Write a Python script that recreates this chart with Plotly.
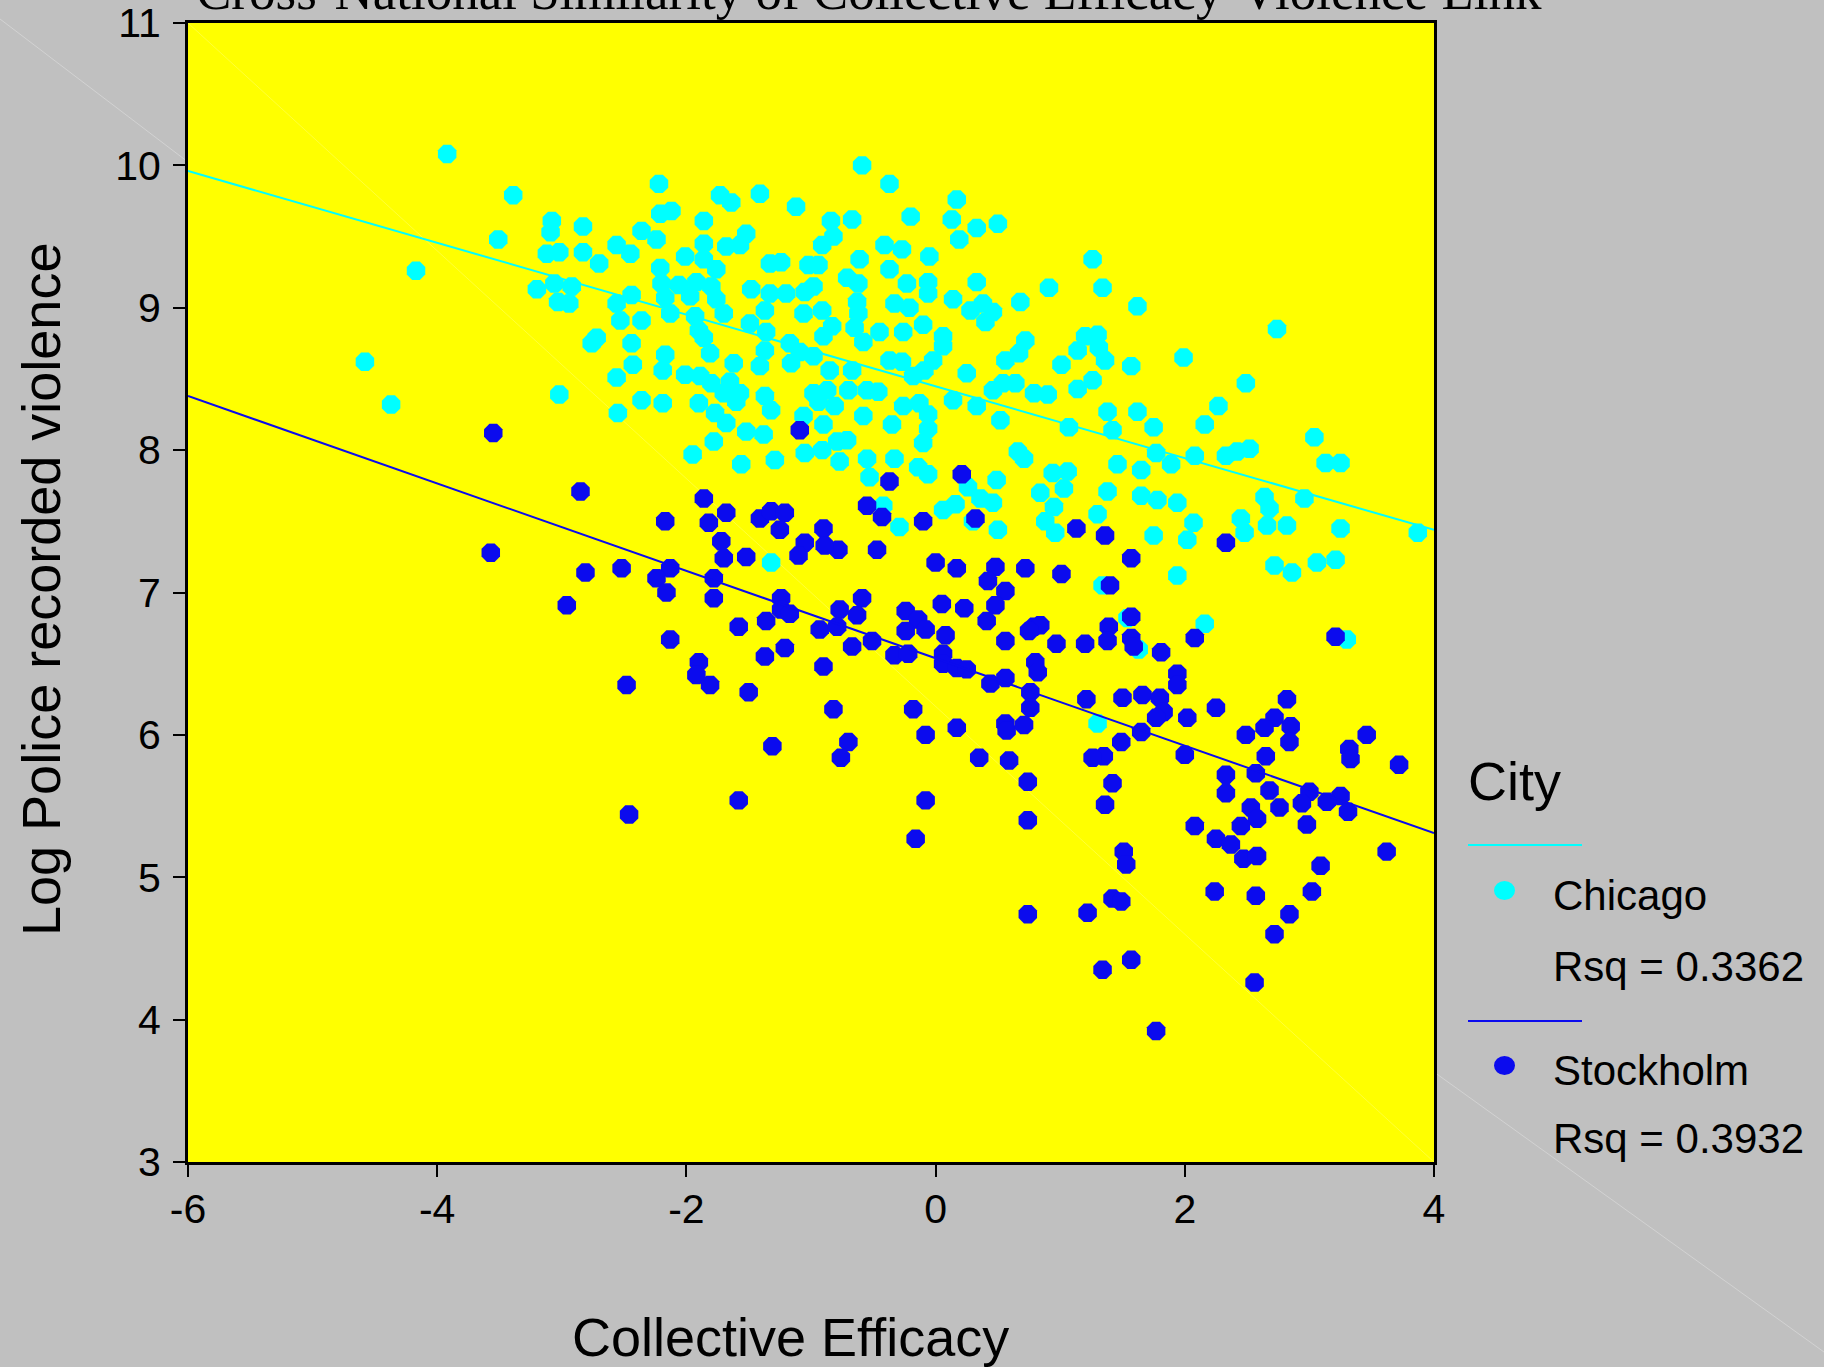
import plotly.graph_objects as go

# ---------------- data ----------------
chicago_x = [
    -3.92, -3.39, -3.08, -3.09, -2.83, -3.51, -3.12, -3.02, -2.83, -2.70, -4.17, -3.06, -3.20, -2.92,
    -3.03, -2.94, -2.72, -2.76, -4.58, -3.02, -4.37,
    -0.59, -2.22, -0.37, -1.73, -1.64, -1.41, -1.12, 0.17, -2.21, -2.12, -1.86, -0.84, -0.67, -0.20,
    0.13, 0.33, 0.50, -2.36, -2.24, -1.52, -1.86, 0.19, -2.56, -2.45, -1.68, -1.57, -0.91, -0.82,
    -0.41, -0.27, -0.05, -0.61, -2.01, -1.86, -1.76, -2.21, -1.33, -1.24, -1.02, -0.94, -0.37, -0.71,
    -0.62, -0.23, -0.06, 0.33, -2.20, -2.06, -1.92, -1.80, -1.48, -1.33, -1.20, -1.05, -0.98, -2.44,
    -2.56, -2.17, -1.97, -1.76, 0.14, -0.06, -0.33, -0.21, 0.38, 0.46, -0.63, -0.62, 0.28, 0.40,
    -2.53, -2.36, -2.13, -1.93, -1.70, -1.49, -1.37, -1.06, -0.91, -0.83, -1.90, -1.36, -0.90, -0.65,
    -0.58, -0.45, -0.26, -0.10, 0.06, -2.44, -1.17, -1.86, -1.37, -1.09, -0.98, 0.06, -2.17, -1.81,
    -1.62, -2.43, -2.19, -1.41, -1.16, -0.85, -0.67, -0.37, -0.27, -0.02, 0.56, -0.18, -0.09, 0.25,
    -2.56, -2.01, -1.89, -1.65, -1.80, 0.54, -0.98, -0.87, -0.70, -0.55, -0.46, 0.46, -1.70, -1.57,
    -2.36, -2.19, -1.90, -1.60, -1.37, -0.94, -0.81, -0.26, -0.13, 0.14, 0.33, -2.55, -1.77, -1.32,
    -1.06, -0.58, -0.06, 0.52, -1.68, -1.52, -1.38, -0.90, -0.35, -0.06, -1.78, -0.79, -0.71, -0.10,
    -1.95, -1.29, -1.56, -1.05, -0.91, -0.77, -0.55, -0.33, -0.14, -0.06, -0.53, 0.26, 0.49, 0.36,
    0.06, 0.16, 0.46, -0.29, 0.50, 0.30, -1.32, -0.42,
    1.26, 0.91, 1.34, 0.68, 1.62, 2.74, 0.72, 0.67, 1.20, 1.30, 1.14, 1.31, 1.36, 1.01, 1.57, 1.99,
    2.49, 0.64, 0.79, 0.90, 1.14, 1.26, 1.38, 1.62, 2.27, 1.07, 1.42, 1.75, 2.16, 3.04, 0.66, 0.71,
    1.77, 1.89, 2.08, 2.33, 2.42, 2.52, 3.13, 3.25, 1.46, 1.65, 0.94, 1.06, 1.03, 0.84, 1.38, 1.65,
    1.78, 1.94, 2.64, 2.68, 2.96, 0.95, 1.30, 0.88, 0.96, 2.07, 2.45, 2.48, 2.66, 2.82, 3.25, 3.87,
    1.75, 2.02, 2.72, 2.86, 3.06, 3.21, 1.94, 1.34,
    2.16, 3.30, 1.54, 1.63, 1.30,
]
chicago_y = [
    10.08, 9.79, 9.61, 9.53, 9.57, 9.48, 9.38, 9.39, 9.39, 9.31, 9.26, 9.17, 9.13, 9.15,
    9.04, 9.03, 8.79, 8.75, 8.62, 8.39, 8.32,
    10.00, 9.87, 9.87, 9.79, 9.74, 9.80, 9.71, 9.76, 9.66, 9.68, 9.61, 9.61, 9.62, 9.64,
    9.62, 9.56, 9.59, 9.54, 9.48, 9.52, 9.45, 9.48, 9.44, 9.38, 9.43, 9.44, 9.44, 9.50,
    9.44, 9.41, 9.36, 9.34, 9.36, 9.34, 9.27, 9.28, 9.31, 9.32, 9.30, 9.30, 9.27, 9.21,
    9.17, 9.17, 9.18, 9.18, 9.17, 9.16, 9.18, 9.15, 9.13, 9.10, 9.10, 9.11, 9.15, 9.09,
    9.03, 9.07, 9.08, 9.06, 9.06, 9.10, 9.03, 9.00, 9.03, 8.97, 9.04, 8.96, 8.98, 8.90,
    8.91, 8.91, 8.96, 8.94, 8.96, 8.89, 8.98, 8.96, 8.98, 8.87, 8.84, 8.83, 8.80, 8.86,
    8.76, 8.83, 8.83, 8.88, 8.80, 8.75, 8.75, 8.79, 8.70, 8.69, 8.66, 8.73, 8.67, 8.68,
    8.61, 8.60, 8.56, 8.59, 8.61, 8.56, 8.56, 8.63, 8.62, 8.63, 8.63, 8.52, 8.56, 8.54,
    8.51, 8.53, 8.52, 8.48, 8.47, 8.47, 8.40, 8.42, 8.42, 8.42, 8.41, 8.42, 8.40, 8.40,
    8.35, 8.33, 8.33, 8.34, 8.38, 8.34, 8.31, 8.31, 8.33, 8.35, 8.31, 8.26, 8.26, 8.28,
    8.24, 8.24, 8.25, 8.21, 8.19, 8.13, 8.11, 8.18, 8.18, 8.15, 8.06, 8.06, 8.07, 8.05,
    7.97, 7.93, 7.90, 7.98, 8.00, 7.92, 7.94, 7.94, 7.88, 7.83, 7.81, 7.74, 7.79, 7.66,
    7.58, 7.62, 7.63, 7.46, 7.44, 7.50, 7.21, 7.61,
    9.34, 9.14, 9.14, 9.04, 9.01, 8.85, 8.77, 8.68, 8.80, 8.81, 8.70, 8.72, 8.63, 8.60, 8.59, 8.65,
    8.47, 8.47, 8.40, 8.39, 8.43, 8.49, 8.27, 8.27, 8.31, 8.16, 8.14, 8.16, 8.18, 8.09, 7.99, 7.94,
    7.98, 7.90, 7.96, 7.96, 7.99, 8.01, 7.91, 7.91, 7.90, 7.86, 7.84, 7.85, 7.73, 7.70, 7.71, 7.68,
    7.65, 7.63, 7.67, 7.59, 7.66, 7.60, 7.55, 7.50, 7.42, 7.49, 7.52, 7.42, 7.47, 7.47, 7.45, 7.42,
    7.40, 7.37, 7.19, 7.14, 7.21, 7.23, 7.12, 7.05,
    6.78, 6.67, 6.82, 6.60, 6.08,
]

stockholm_x = [
    -3.55, -2.85, -3.57, -2.81,
    -1.09, -0.37, 0.21, -1.86, -2.17, -1.68, -1.82, -1.41, -1.32, -1.21, -1.25, -0.55, -0.43, -0.10,
    0.32, -1.72, -1.70, -1.52, -0.90, -1.05, -1.10, -0.78, -0.89, -0.47, 0.00, 0.17, 0.48, 0.42,
    -2.52, -2.13, -2.24, -1.78, 0.56,
    -2.96,
    -2.16, -1.78, -1.24, -1.24, -1.17, -0.59, -0.77, -0.63, -1.36, -1.58, -0.93, -0.79, -2.13, -0.24,
    -0.14, -0.24, -0.08, 0.05, 0.23, 0.48, 0.41, 0.08, 0.56, -0.67, -0.51, -1.21, -1.37, -1.90,
    -1.92, -1.81, -2.48, -1.50, -0.90, -0.33, -0.22, 0.06, 0.06, 0.17, 0.25, 0.44, 0.56, -0.82,
    -0.18, -0.08, 0.17, 0.56, 0.57, -1.31, -0.70, -0.76, 0.35, 0.59, -1.58, -0.08, -2.46, -0.16,
    0.72, 1.01, 1.40, 1.13, 1.36, 2.33, 1.57,
    0.79, 0.84, 0.75, 0.97, 1.20, 1.39, 1.38, 1.57, 1.57, 1.59, 1.81, 2.08, 3.21, 0.80, 0.82, 1.94,
    1.94, 0.76, 0.76, 1.21, 1.50, 1.66, 1.80, 1.83, 1.77, 2.02, 2.25, 2.82, 2.72, 2.64, 2.85, 2.49,
    2.84, 3.46, 0.71, 1.65, 1.49, 1.35, 1.26, 2.00, 2.65, 3.32, 3.33, 3.72, 2.57, 2.33, 2.33, 0.74,
    1.42, 1.36, 2.68, 3.00, 3.25, 3.14, 2.94, 2.53, 2.76, 3.31, 2.58, 2.98, 2.45, 2.08, 0.74, 2.25,
    2.37, 2.47, 2.58, 1.51, 1.53, 3.62, 3.09, 3.02, 2.24, 2.57, 1.42, 1.49, 1.22, 0.74, 2.84, 2.72,
    1.57, 1.34, 2.56, 1.77,
]
stockholm_y = [
    8.12, 7.71, 7.28, 7.14,
    8.14, 7.78, 7.83, 7.66, 7.50, 7.56, 7.49, 7.52, 7.57, 7.56, 7.44, 7.61, 7.53, 7.50,
    7.52, 7.36, 7.24, 7.25, 7.45, 7.35, 7.26, 7.30, 7.33, 7.30, 7.21, 7.17, 7.18, 7.08,
    7.17, 7.17, 7.10, 7.10, 7.01,
    6.91,
    7.00, 6.96, 6.96, 6.88, 6.85, 6.96, 6.88, 6.84, 6.80, 6.76, 6.74, 6.76, 6.67, 6.87,
    6.81, 6.73, 6.74, 6.92, 6.89, 6.91, 6.80, 6.70, 6.66, 6.62, 6.66, 6.61, 6.55, 6.51,
    6.42, 6.35, 6.35, 6.30, 6.48, 6.56, 6.57, 6.57, 6.50, 6.47, 6.46, 6.36, 6.40, 6.18,
    6.18, 6.00, 6.05, 6.08, 6.03, 5.92, 5.95, 5.84, 5.84, 5.82, 5.54, 5.54, 5.44, 5.27,
    7.17, 7.13, 7.05, 7.45, 7.40, 7.35, 7.24,
    6.76, 6.77, 6.73, 6.64, 6.64, 6.76, 6.66, 6.83, 6.68, 6.62, 6.58, 6.68, 6.69, 6.51, 6.44, 6.43,
    6.35, 6.30, 6.19, 6.25, 6.26, 6.28, 6.26, 6.16, 6.12, 6.12, 6.19, 6.25, 6.12, 6.05, 6.06, 6.00,
    5.95, 6.00, 6.07, 6.02, 5.95, 5.85, 5.84, 5.86, 5.85, 5.90, 5.83, 5.79, 5.73, 5.72, 5.59, 5.67,
    5.66, 5.51, 5.61, 5.60, 5.57, 5.53, 5.52, 5.49, 5.49, 5.46, 5.41, 5.37, 5.36, 5.36, 5.40, 5.27,
    5.23, 5.13, 5.15, 5.18, 5.09, 5.18, 5.08, 4.90, 4.90, 4.87, 4.85, 4.83, 4.75, 4.74, 4.74, 4.60,
    4.42, 4.35, 4.26, 3.92,
]

fit_x = [-6, 4]
chicago_fit_y = [9.96, 7.44]
stockholm_fit_y = [8.38, 5.31]

cities = ["Chicago", "Stockholm"]
rsq_labels = ["Rsq = 0.3362", "Rsq = 0.3932"]

x_ticks = [-6, -4, -2, 0, 2, 4]
x_tick_text = ["-6", "-4", "-2", "0", "2", "4"]
y_ticks = [3, 4, 5, 6, 7, 8, 9, 10, 11]
y_tick_text = ["3", "4", "5", "6", "7", "8", "9", "10", "11"]

CYAN = "#00FFFF"
BLUE = "#0B0BEE"
SANS = "Liberation Sans, Arial, sans-serif"
SERIF = "Liberation Serif, Times New Roman, serif"

# ---------------- figure ----------------
fig = go.Figure()

fig.add_trace(go.Scatter(
    x=chicago_x, y=chicago_y, mode="markers", name=cities[0],
    marker=dict(symbol="octagon", size=20, color=CYAN, line=dict(width=0)),
    showlegend=False))
fig.add_trace(go.Scatter(
    x=stockholm_x, y=stockholm_y, mode="markers", name=cities[1],
    marker=dict(symbol="octagon", size=20, color=BLUE, line=dict(width=0)),
    showlegend=False))
fig.add_trace(go.Scatter(
    x=fit_x, y=chicago_fit_y, mode="lines", line=dict(color=CYAN, width=2),
    showlegend=False, hoverinfo="skip"))
fig.add_trace(go.Scatter(
    x=fit_x, y=stockholm_fit_y, mode="lines", line=dict(color=BLUE, width=2),
    showlegend=False, hoverinfo="skip"))

W, H = 1824, 1367
L, R, T, B = 188, 390, 23, 205
PW, PH = W - L - R, H - T - B


def px(xp):
    return (xp - L) / PW


def py(yp):
    return (H - B - yp) / PH


shapes = [
    # faint background decoration lines
    dict(type="line", xref="paper", yref="paper", x0=0, y0=1, x1=1, y1=0,
         line=dict(color="rgba(255,255,255,0.22)", width=1), layer="below"),
    dict(type="line", xref="paper", yref="paper", x0=px(0), y0=py(19), x1=px(188), y1=py(162),
         line=dict(color="#D2D2D2", width=1), layer="below"),
    dict(type="line", xref="paper", yref="paper", x0=px(1434), y0=py(1072), x1=px(1824), y1=py(1352),
         line=dict(color="#D2D2D2", width=1), layer="below"),
    # custom legend
    dict(type="line", xref="paper", yref="paper", x0=px(1468), x1=px(1582), y0=py(845), y1=py(845),
         line=dict(color=CYAN, width=2)),
    dict(type="circle", xref="paper", yref="paper", x0=px(1494), x1=px(1515), y0=py(881), y1=py(900),
         fillcolor=CYAN, line=dict(width=0)),
    dict(type="line", xref="paper", yref="paper", x0=px(1468), x1=px(1582), y0=py(1021), y1=py(1021),
         line=dict(color=BLUE, width=2)),
    dict(type="circle", xref="paper", yref="paper", x0=px(1494), x1=px(1515), y0=py(1056), y1=py(1075),
         fillcolor=BLUE, line=dict(width=0)),
]

annotations = [
    dict(text="Cross-National Similarity of Collective Efficacy-Violence Link", xref="paper", yref="paper",
         x=px(869), y=1, xanchor="center", yanchor="bottom", yshift=1, showarrow=False,
         font=dict(family=SERIF, size=53, color="black")),
    dict(text="Log Police recorded violence", xref="paper", yref="paper", x=px(41), y=py(590),
         xanchor="center", yanchor="middle", textangle=-90, showarrow=False,
         font=dict(family=SANS, size=54, color="black")),
    dict(text="Collective Efficacy", xref="paper", yref="paper", x=px(790), y=py(1337),
         xanchor="center", yanchor="middle", showarrow=False,
         font=dict(family=SANS, size=54, color="black")),
    dict(text="City", xref="paper", yref="paper", x=px(1466), y=py(781),
         xanchor="left", yanchor="middle", showarrow=False,
         font=dict(family=SANS, size=54, color="black")),
    dict(text=cities[0], xref="paper", yref="paper", x=px(1551), y=py(895),
         xanchor="left", yanchor="middle", showarrow=False,
         font=dict(family=SANS, size=42, color="black")),
    dict(text=rsq_labels[0], xref="paper", yref="paper", x=px(1551), y=py(966),
         xanchor="left", yanchor="middle", showarrow=False,
         font=dict(family=SANS, size=42, color="black")),
    dict(text=cities[1], xref="paper", yref="paper", x=px(1551), y=py(1070),
         xanchor="left", yanchor="middle", showarrow=False,
         font=dict(family=SANS, size=42, color="black")),
    dict(text=rsq_labels[1], xref="paper", yref="paper", x=px(1551), y=py(1138),
         xanchor="left", yanchor="middle", showarrow=False,
         font=dict(family=SANS, size=42, color="black")),
]

axis_common = dict(
    showgrid=False, zeroline=False, showline=True, linecolor="black", linewidth=3,
    mirror=True, ticks="outside", ticklen=12, tickwidth=2, tickcolor="black",
    automargin=False,
    tickfont=dict(family=SANS, size=41, color="black"),
)

fig.update_layout(
    width=W, height=H,
    margin=dict(l=L, r=R, t=T, b=B, pad=0, autoexpand=False),
    paper_bgcolor="#C0C0C0", plot_bgcolor="#FFFF00",
    xaxis=dict(range=[-6, 4], tickvals=x_ticks, ticktext=x_tick_text, ticklabelstandoff=-3, **axis_common),
    yaxis=dict(range=[3, 11], tickvals=y_ticks, ticktext=y_tick_text, ticklabelstandoff=4, **axis_common),
    shapes=shapes, annotations=annotations, showlegend=False,
)

fig.write_html("out.html")
